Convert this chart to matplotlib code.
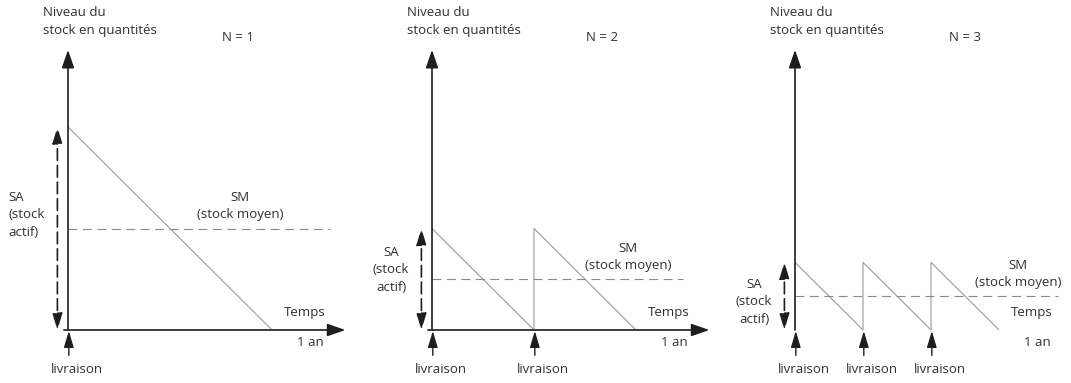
import matplotlib.pyplot as plt

plt.rcParams['font.family'] = ['Open Sans', 'DejaVu Sans']

# nombre de commandes par an
n_orders = [1, 2, 3]
# dates de livraison (en années)
deliveries = [[0.0], [0.0, 0.5], [0.0, 1 / 3, 2 / 3]]
# stock actif (niveau max, en fraction de la demande annuelle)
active_stock = [1.0, 0.5, 1 / 3]
# stock moyen
mean_stock = [0.5, 0.25, 1 / 6]

axis_color = '#1e1e1e'
line_color = '#9a9a9a'
text_color = '#303030'
fs = 9.5

W, H = 1071, 383
# origine de chaque panneau et zone occupée (pixels)
origins = [(68, 330), (432, 330), (795, 330)]
spans = [(0, 360), (360, 720), (710, 1071)]
px_x, px_y = 204, 203
sm_end = [1.284, 1.23, 1.29]
sm_text_x = [0.843, 0.96, 1.093]
sa_align = ['left', 'center', 'center']
sa_text_y = [0.567, 0.296, 0.138]

fig = plt.figure(figsize=(W / 100, H / 100), dpi=100)

for i in range(3):
    ox, oy = origins[i]
    x0, x1 = spans[i]
    ax = fig.add_axes([x0 / W, 0, (x1 - x0) / W, 1])
    ax.set_xlim((x0 - ox) / px_x, (x1 - ox) / px_x)
    ax.set_ylim(-(H - oy) / px_y, oy / px_y)
    ax.axis('off')
    ax.patch.set_alpha(0)

    q = active_stock[i]
    n = n_orders[i]
    cycle = 1 / n

    # dents de scie
    for k, t in enumerate(deliveries[i]):
        xs = [t, t, t + cycle] if k > 0 else [t, t + cycle]
        ys = [0, q, 0] if k > 0 else [q, 0]
        ax.plot(xs, ys, color=line_color, lw=0.8, solid_capstyle='butt')

    # stock moyen
    ax.plot([0, sm_end[i]], [mean_stock[i], mean_stock[i]], color='#8a8a8a', lw=0.8,
            dashes=(8, 5))
    ax.text(sm_text_x[i], mean_stock[i] + 0.035, 'SM\n(stock moyen)', ha='center',
            va='bottom', fontsize=fs, color=text_color, linespacing=1.45)

    # axes
    ax.annotate('', xy=(1.36, 0), xytext=(-0.02, 0),
                arrowprops=dict(arrowstyle='-|>,head_length=1.1,head_width=0.38',
                                mutation_scale=10, lw=1.2, color=axis_color,
                                shrinkA=0, shrinkB=0))
    ax.annotate('', xy=(0, 1.38), xytext=(0, 0),
                arrowprops=dict(arrowstyle='-|>,head_length=1.1,head_width=0.38',
                                mutation_scale=10, lw=1.2, color=axis_color,
                                shrinkA=0, shrinkB=0))

    # stock actif
    ax.annotate('', xy=(-0.052, q), xytext=(-0.052, 0),
                arrowprops=dict(arrowstyle='<|-|>,head_length=1.0,head_width=0.3',
                                mutation_scale=10, lw=1.2, color=axis_color,
                                linestyle=(0, (7, 3)), shrinkA=0, shrinkB=0))
    ax.text(-0.29, sa_text_y[i], 'SA\n(stock\nactif)', ha='left', va='center',
            multialignment=sa_align[i], fontsize=fs, color=text_color,
            linespacing=1.45)

    # livraisons
    for t in deliveries[i]:
        ax.annotate('', xy=(t + 0.004, -0.005), xytext=(t + 0.004, -0.125),
                    arrowprops=dict(arrowstyle='-|>,head_length=1.0,head_width=0.3',
                                    mutation_scale=10, lw=1.0, color=axis_color,
                                    shrinkA=0, shrinkB=0))
        ax.text(t + 0.045, -0.197, 'livraison', ha='center', va='center',
                fontsize=fs, color=text_color)

    ax.text(1.162, 0.084, 'Temps', ha='center', va='center', fontsize=fs, color=text_color)
    ax.text(1.186, -0.064, '1 an', ha='center', va='center', fontsize=fs, color=text_color)
    ax.text(-0.125, 1.595, 'Niveau du\nstock en quantités', ha='left', va='top',
            fontsize=fs, color=text_color, linespacing=1.45)
    ax.text(0.755, 1.443, 'N = %d' % n, ha='left', va='center', fontsize=fs,
            color=text_color)

fig.savefig('out.png', dpi=100)
